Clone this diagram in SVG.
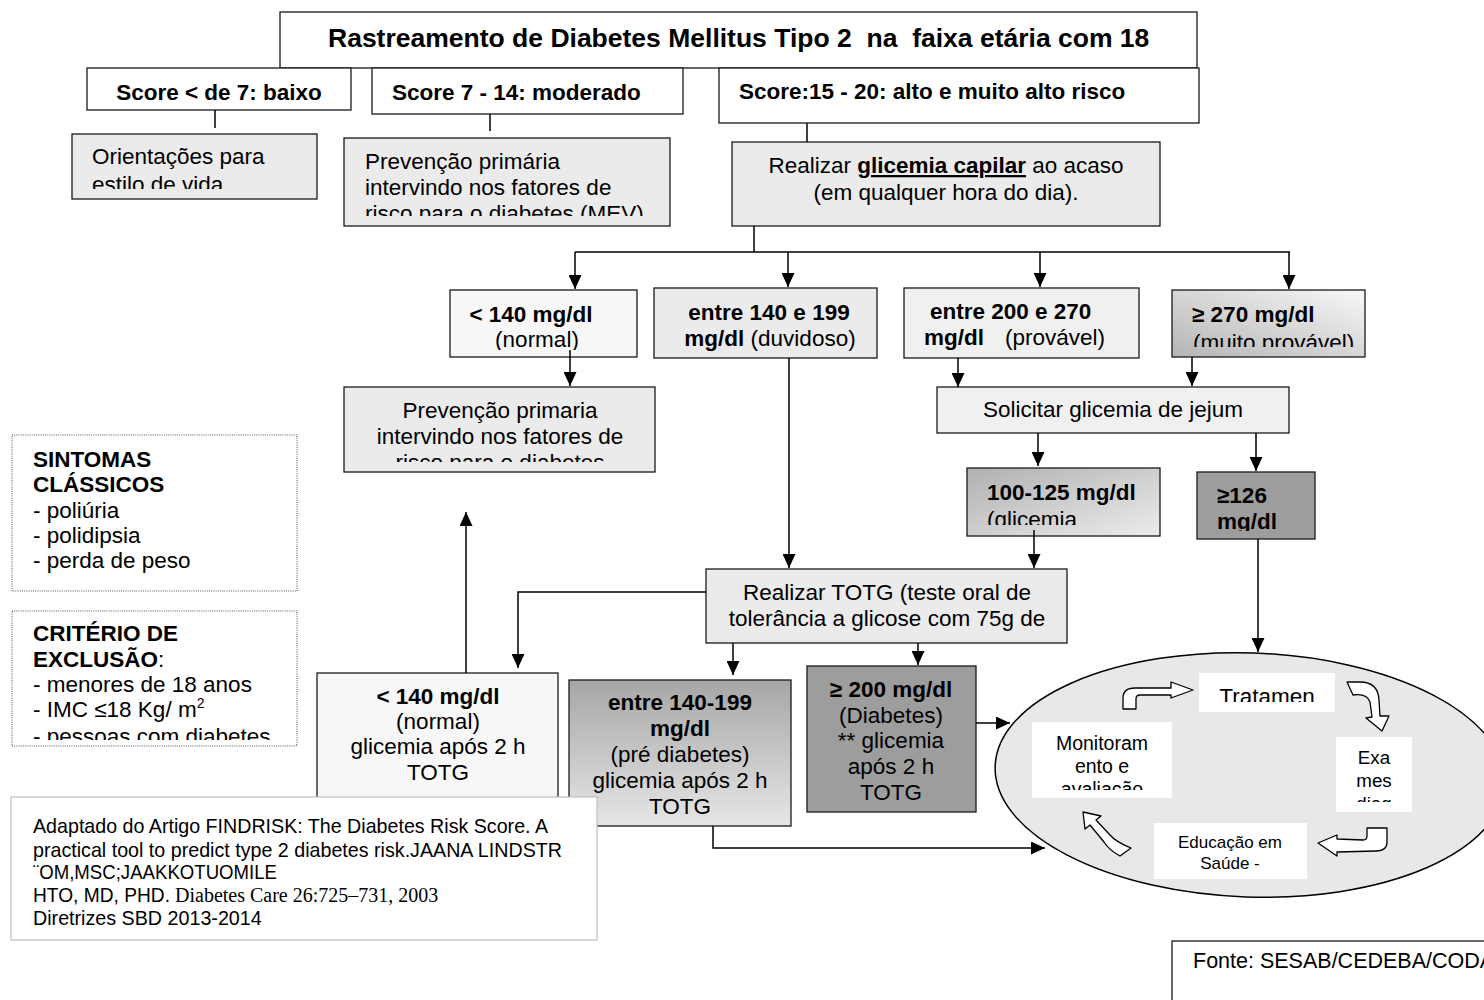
<svg xmlns="http://www.w3.org/2000/svg" width="1484" height="1000" viewBox="0 0 1484 1000">
<defs>
<style>
text{font-family:'Liberation Sans',Arial,Helvetica,sans-serif;font-size:22.5px;fill:#000}
.bd{font-weight:bold}
.m{text-anchor:middle}
.box{stroke:#1a1a1a;stroke-width:1.3}
.w{fill:#fff}
.l1{fill:#f7f7f7}
.l2{fill:#ebebeb}
.l3{fill:#f0f0f0}
.dk{fill:#9d9d9d}
.dot{fill:#fff;stroke:#555;stroke-width:1;stroke-dasharray:1 1.2}
.cn{fill:none;stroke:#000;stroke-width:1.5}
.arr{marker-end:url(#ah)}
.blk{fill:#fff;stroke:#000;stroke-width:1.3;stroke-linejoin:round}
.inner{fill:#fff}
.nar{font-family:'Liberation Sans Narrow','Arial Narrow','Liberation Sans',sans-serif;font-size:21px}
.ser{font-family:'Liberation Serif','Times New Roman',serif;font-size:20px}
</style>
<marker id="ah" viewBox="0 0 14 13" refX="14" refY="6.5" markerWidth="14" markerHeight="13" markerUnits="userSpaceOnUse" orient="auto">
<path d="M0,0 L14,6.5 L0,13 Z" fill="#000"/>
</marker>
<linearGradient id="g270" x1="0" y1="1" x2="1" y2="0">
<stop offset="0" stop-color="#b4b4b4"/><stop offset="1" stop-color="#f8f8f8"/>
</linearGradient>
<linearGradient id="g100" x1="0" y1="0" x2="1" y2="1">
<stop offset="0" stop-color="#b0b0b0"/><stop offset="1" stop-color="#ececec"/>
</linearGradient>
<linearGradient id="g140" x1="0" y1="0" x2="0" y2="1">
<stop offset="0" stop-color="#a6a6a6"/><stop offset="1" stop-color="#e6e6e6"/>
</linearGradient>
<clipPath id="cOri"><rect x="72" y="134" width="245" height="55"/></clipPath>
<clipPath id="cPrev1"><rect x="344" y="138" width="326" height="78"/></clipPath>
<clipPath id="cN1"><rect x="450" y="290" width="187" height="60"/></clipPath>
<clipPath id="c270"><rect x="1172" y="290" width="193" height="57"/></clipPath>
<clipPath id="cPrev2"><rect x="344" y="387" width="311" height="75"/></clipPath>
<clipPath id="c100"><rect x="967" y="468" width="193" height="57"/></clipPath>
<clipPath id="c126"><rect x="1197" y="472" width="118" height="59"/></clipPath>
<clipPath id="cCrit"><rect x="12" y="611" width="285" height="129"/></clipPath>
<clipPath id="cTrat"><rect x="1199" y="673" width="136" height="29"/></clipPath>
<clipPath id="cMon"><rect x="1032" y="722" width="140" height="68"/></clipPath>
<clipPath id="cExa"><rect x="1336" y="737" width="76" height="65"/></clipPath>
</defs>

<rect width="1484" height="1000" fill="#fff"/>

<!-- header -->
<g id="title">
<rect class="box w" x="280" y="12" width="917" height="56"/>
<text class="bd" x="328" y="47" style="font-size:26.5px" xml:space="preserve">Rastreamento de Diabetes Mellitus Tipo 2  na  faixa etária com 18</text>
</g>

<g id="score-low">
<rect class="box w" x="87" y="68" width="264" height="42"/>
<text class="bd m" x="219" y="100">Score &lt; de 7: baixo</text>
</g>
<g id="score-mid">
<rect class="box w" x="372" y="68" width="311" height="46"/>
<text class="bd" x="392" y="100">Score 7 - 14: moderado</text>
</g>
<g id="score-high">
<rect class="box w" x="719" y="68" width="480" height="55"/>
<text class="bd" x="739" y="99">Score:15 - 20: alto e muito alto risco</text>
</g>

<g id="lifestyle">
<rect class="box l2" x="72" y="134" width="245" height="65"/>
<g clip-path="url(#cOri)">
<text x="92" y="164">Orientações para</text>
<text x="92" y="192">estilo de vida</text>
</g>
</g>

<g id="prevention-mid">
<rect class="box l2" x="344" y="138" width="326" height="88"/>
<g clip-path="url(#cPrev1)">
<text x="365" y="169">Prevenção primária</text>
<text x="365" y="195">intervindo nos fatores de</text>
<text x="365" y="221">risco para o diabetes (MEV)</text>
</g>
</g>

<g id="capillary">
<rect class="box l2" x="732" y="142" width="428" height="84"/>
<text class="m" x="946" y="173">Realizar <tspan class="bd" text-decoration="underline">glicemia capilar</tspan> ao acaso</text>
<text class="m" x="946" y="200">(em qualquer hora do dia).</text>
</g>

<!-- capillary results -->
<g id="cap-normal">
<rect class="box l1" x="450" y="290" width="187" height="67"/>
<g clip-path="url(#cN1)">
<text class="bd m" x="531" y="322">&lt; 140 mg/dl</text>
<text class="m" x="537" y="347">(normal)</text>
</g>
</g>
<g id="cap-doubt">
<rect class="box l2" x="654" y="288" width="223" height="70"/>
<text class="bd m" x="769" y="320">entre 140 e 199</text>
<text class="m" x="770" y="346"><tspan class="bd">mg/dl</tspan> (duvidoso)</text>
</g>
<g id="cap-probable">
<rect class="box l3" x="904" y="288" width="235" height="70"/>
<text class="bd" x="930" y="319">entre 200 e 270</text>
<text x="924" y="345"><tspan class="bd">mg/dl</tspan><tspan x="1005">(provável)</tspan></text>
</g>
<g id="cap-very-probable">
<rect class="box" fill="url(#g270)" x="1172" y="290" width="193" height="67"/>
<g clip-path="url(#c270)">
<text class="bd" x="1192" y="322">≥ 270 mg/dl</text>
<text x="1193" y="350">(muito provável)</text>
</g>
</g>

<g id="prevention-normal">
<rect class="box l2" x="344" y="387" width="311" height="85"/>
<g clip-path="url(#cPrev2)">
<text class="m" x="500" y="418">Prevenção primaria</text>
<text class="m" x="500" y="444">intervindo nos fatores de</text>
<text class="m" x="500" y="470">risco para o diabetes</text>
</g>
</g>

<g id="fasting">
<rect class="box l3" x="937" y="387" width="352" height="46"/>
<text class="m" x="1113" y="417">Solicitar glicemia de jejum</text>
</g>

<g id="fast-100">
<rect class="box" fill="url(#g100)" x="967" y="468" width="193" height="68"/>
<g clip-path="url(#c100)">
<text class="bd" x="987" y="500">100-125 mg/dl</text>
<text x="987" y="527">(glicemia</text>
</g>
</g>
<g id="fast-126">
<rect class="box dk" x="1197" y="472" width="118" height="67"/>
<g clip-path="url(#c126)">
<text class="bd" x="1217" y="503">≥126</text>
<text class="bd" x="1217" y="529">mg/dl</text>
</g>
</g>

<g id="ogtt">
<rect class="box l2" x="706" y="569" width="361" height="74"/>
<text class="m" x="887" y="600">Realizar TOTG (teste oral de</text>
<text class="m" x="887" y="626">tolerância a glicose com 75g de</text>
</g>

<g id="ogtt-normal">
<rect class="box l1" x="317" y="673" width="241" height="150"/>
<text class="bd m" x="438" y="704">&lt; 140 mg/dl</text>
<text class="m" x="438" y="729">(normal)</text>
<text class="m" x="438" y="754">glicemia após 2 h</text>
<text class="m" x="438" y="780">TOTG</text>
</g>
<g id="ogtt-pre">
<rect class="box" fill="url(#g140)" x="569" y="680" width="222" height="146"/>
<text class="bd m" x="680" y="710">entre 140-199</text>
<text class="bd m" x="680" y="736">mg/dl</text>
<text class="m" x="680" y="762">(pré diabetes)</text>
<text class="m" x="680" y="788">glicemia após 2 h</text>
<text class="m" x="680" y="814">TOTG</text>
</g>
<g id="ogtt-diabetes">
<rect class="box dk" x="807" y="666" width="169" height="146"/>
<text class="bd m" x="891" y="697">≥ 200 mg/dl</text>
<text class="m" x="891" y="723">(Diabetes)</text>
<text class="m" x="891" y="748">** glicemia</text>
<text class="m" x="891" y="774">após 2 h</text>
<text class="m" x="891" y="800">TOTG</text>
</g>

<!-- side notes -->
<g id="symptoms">
<rect class="dot" x="12" y="435" width="285" height="156"/>
<text class="bd" x="33" y="467">SINTOMAS</text>
<text class="bd" x="33" y="492">CLÁSSICOS</text>
<text x="33" y="518">- poliúria</text>
<text x="33" y="543">- polidipsia</text>
<text x="33" y="568">- perda de peso</text>
</g>
<g id="exclusion">
<rect class="dot" x="12" y="611" width="285" height="135"/>
<g clip-path="url(#cCrit)">
<text class="bd" x="33" y="641">CRITÉRIO DE</text>
<text x="33" y="667"><tspan class="bd">EXCLUSÃO</tspan>:</text>
<text x="33" y="692">- menores de 18 anos</text>
<text x="33" y="717">- IMC ≤18 Kg/ m<tspan dy="-9" style="font-size:14px">2</tspan></text>
<text x="33" y="744">- pessoas com diabetes</text>
</g>
</g>

<!-- care cycle -->
<g id="care-cycle">
<ellipse cx="1250" cy="775" rx="255" ry="122" transform="rotate(2 1250 775)" fill="#e8e8e8" stroke="#000" stroke-width="1.5"/>
<rect class="inner" x="1199" y="673" width="136" height="39"/>
<g clip-path="url(#cTrat)"><text class="m" x="1267" y="704">Tratamen</text></g>
<rect class="inner" x="1032" y="722" width="140" height="76"/>
<g clip-path="url(#cMon)">
<text class="m" x="1102" y="750" style="font-size:19.5px">Monitoram</text>
<text class="m" x="1102" y="773" style="font-size:19.5px">ento e</text>
<text class="m" x="1102" y="796" style="font-size:19.5px">avaliação</text>
</g>
<rect class="inner" x="1336" y="737" width="76" height="75"/>
<g clip-path="url(#cExa)">
<text class="m" x="1374" y="764" style="font-size:18.75px">Exa</text>
<text class="m" x="1374" y="787" style="font-size:18.75px">mes</text>
<text class="m" x="1374" y="810" style="font-size:18.75px">diag</text>
</g>
<rect class="inner" x="1154" y="823" width="153" height="56"/>
<text class="m" x="1230" y="848" style="font-size:17px">Educação em</text>
<text class="m" x="1230" y="869" style="font-size:17px">Saúde -</text>
<path class="blk" d="M1123,709 L1123,698 Q1123,688 1135,688 L1171,688 L1171,682 L1193,690 L1171,698 L1171,695 L1140,695 Q1136,695 1136,699 L1136,709 Z"/>
<path class="blk" d="M1347,682 L1360,682 Q1378,682 1379,700 L1380,716 L1389,716 L1382,731 L1366,718 L1372,717 L1370,702 Q1367,693 1353,695 Z"/>
<path class="blk" d="M1367,828 L1387,828 L1387,842 Q1387,851 1376,851 L1337,852 L1337,856 L1318,843 L1337,835 L1337,839 L1363,840 Q1367,840 1367,836 Z"/>
<path class="blk" d="M1083,812 L1101,816 L1096,820 L1110,835 Q1116,842 1131,848 L1120,856 Q1109,850 1104,842 L1090,825 L1085,829 Z"/>
</g>

<!-- connectors -->
<g id="connectors">
<path class="cn" d="M215,110 V128"/>
<path class="cn" d="M490,114 V131"/>
<path class="cn" d="M807,123 V142"/>
<path class="cn" d="M754,226 V252"/>
<path class="cn" d="M575,252 H1290"/>
<path class="cn arr" d="M575,252 V289"/>
<path class="cn arr" d="M788,252 V287"/>
<path class="cn arr" d="M1040,252 V287"/>
<path class="cn arr" d="M1289,252 V289"/>
<path class="cn arr" d="M570,350 V386"/>
<path class="cn arr" d="M789,358 V568"/>
<path class="cn arr" d="M958,358 V387"/>
<path class="cn arr" d="M1192,357 V386"/>
<path class="cn arr" d="M1038,433 V466"/>
<path class="cn arr" d="M1256,433 V471"/>
<path class="cn arr" d="M1034,530 V568"/>
<path class="cn arr" d="M1258,539 V652"/>
<path class="cn arr" d="M706,592 H518 V668"/>
<path class="cn arr" d="M733,643 V675"/>
<path class="cn arr" d="M918,643 V665"/>
<path class="cn arr" d="M466,673 V512"/>
<path class="cn arr" d="M976,723 H1010"/>
<path class="cn arr" d="M713,826 V848 H1045"/>
</g>

<!-- references -->
<g id="reference">
<rect x="11" y="797" width="586" height="143" fill="#fff" stroke="#c4c4c4" stroke-width="1.3"/>
<text class="nar" x="33" y="833" textLength="515" lengthAdjust="spacingAndGlyphs">Adaptado do Artigo FINDRISK: The Diabetes Risk Score. A</text>
<text class="nar" x="33" y="857" textLength="529" lengthAdjust="spacingAndGlyphs">practical tool to predict type 2 diabetes risk.JAANA LINDSTR</text>
<text class="nar" x="33" y="879" textLength="244" lengthAdjust="spacingAndGlyphs">¨OM,MSC;JAAKKOTUOMILE</text>
<text class="nar" x="33" y="902" textLength="137" lengthAdjust="spacingAndGlyphs">HTO, MD, PHD.</text>
<text class="ser" x="175" y="902">Diabetes Care 26:725–731, 2003</text>
<text x="33" y="925" style="font-size:19.7px">Diretrizes SBD 2013-2014</text>
</g>

<g id="source">
<rect class="box w" x="1172" y="941" width="330" height="80"/>
<text x="1193" y="968" style="font-size:21.5px">Fonte: SESAB/CEDEBA/CODA</text>
</g>
</svg>
